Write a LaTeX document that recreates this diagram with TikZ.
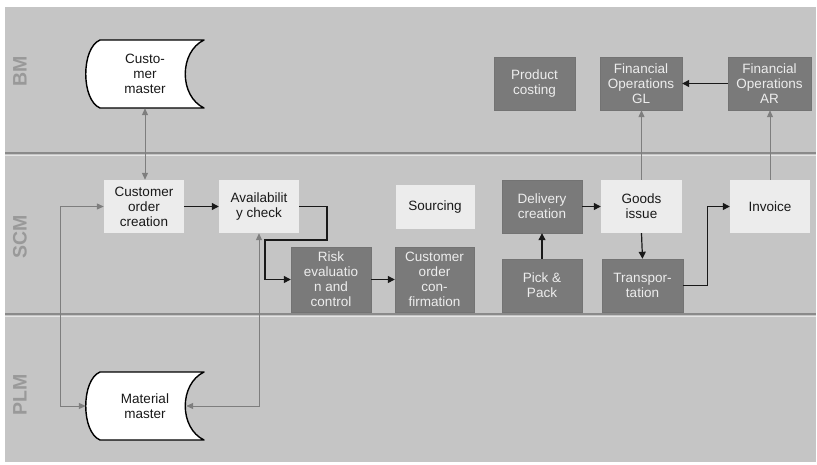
\documentclass[tikz,border=0pt]{standalone}
\usepackage{fontspec}
\setmainfont{Liberation Sans}
\usetikzlibrary{arrows.meta}
\definecolor{lanefill}{HTML}{C5C5C5}
\definecolor{laneline}{HTML}{8A8A8A}
\definecolor{lanetext}{HTML}{999999}
\definecolor{boxlight}{HTML}{ECECEC}
\definecolor{boxdark}{HTML}{7A7A7A}
\definecolor{linkgray}{HTML}{7E7E7E}
\newcommand{\boxfont}{\fontsize{13.5}{15}\selectfont}

\begin{document}
\begin{tikzpicture}[x=1pt,y=-1pt]
  \useasboundingbox (0,0) rectangle (817,464);
  \fill[lanefill] (5,7) rectangle (816,462);
  \tikzset{lightbox/.style={fill=boxlight,text=black!90,minimum width=80pt,minimum height=53pt,
                            inner sep=0pt,align=center,font=\boxfont},
           darkbox/.style={lightbox,fill=boxdark,draw=black!55,line width=.4pt,text=white!93!black},
           masterbox/.style={minimum width=118pt,minimum height=68pt,inner sep=0pt,align=center,
                             font=\boxfont,text=black!90},
           masterline/.style={draw=black,fill=white,line width=1.4pt,line join=round},
           lanelabel/.style={rotate=90,text=lanetext,font=\fontsize{19.5}{19.5}\selectfont\bfseries},
           flow/.style={draw=black!90,line width=1.2pt,-{Triangle[length=7pt,width=7pt]}},
           link/.style={draw=linkgray,line width=1pt,{Triangle[length=7pt,width=6pt]}-{Triangle[length=7pt,width=6pt]}},
           uplink/.style={draw=linkgray,line width=1pt,-{Triangle[length=7pt,width=6pt]}}}
  % lanes
  \draw[laneline,line width=1.5pt] (5,153) -- (816,153);
  \draw[white!90!black,line width=.8pt] (5,155.2) -- (816,155.2);
  \draw[laneline,line width=1.5pt] (5,314) -- (816,314);
  \draw[white!90!black,line width=.8pt] (5,316.2) -- (816,316.2);
  \node[lanelabel] (bm) at (20,71) {BM};
  \node[lanelabel] (scm) at (20,237) {SCM};
  \node[lanelabel] (plm) at (20,395) {PLM};

  % master data
  \coordinate (cmc) at (145,74);
  \coordinate (mmc) at (145,406);
  \foreach \c in {cmc,mmc}
    \draw[masterline] ([shift={(59,-34)}]\c) .. controls +(-25,12) and +(-25,-12) .. ([shift={(59,34)}]\c)
      -- ([shift={(-45,34)}]\c) .. controls +(-19,-8) and +(-19,8) .. ([shift={(-45,-34)}]\c) -- cycle;
  \node[masterbox] (cmaster) at (cmc) {Custo-\\mer\\master};
  \node[masterbox] (mmaster) at (mmc) {Material\\master};

  % process steps
  \node[lightbox] (coc) at (144,206.5) {Customer\\order\\creation};
  \node[lightbox] (avail) at (259,206.5) {Availabilit\\y check};
  \node[darkbox,minimum height=65pt] (risk) at (331,279.5) {Risk\\evaluatio\\n and\\control};
  \node[darkbox,minimum height=65pt,minimum width=79pt] (coconf) at (434.5,279.5) {Customer\\order\\con-\\firmation};
  \node[lightbox,minimum height=44pt,minimum width=79pt] (sourcing) at (435,207) {Sourcing};
  \node[darkbox] (deliv) at (542,206.5) {Delivery\\creation};
  \node[lightbox,minimum width=81pt] (goods) at (641.5,206.5) {Goods\\issue};
  \node[lightbox] (invoice) at (770,206.5) {Invoice};
  \node[darkbox] (pick) at (542,285.5) {Pick \&\\Pack};
  \node[darkbox,minimum width=81pt] (transp) at (642.5,285.5) {Transpor-\\tation};
  \node[darkbox,minimum width=81pt] (costing) at (534.5,83.5) {Product\\costing};
  \node[darkbox,minimum width=82pt] (fingl) at (641,83.5) {Financial\\Operations\\GL};
  \node[darkbox,minimum width=83pt] (finar) at (769.5,83.5) {Financial\\Operations\\AR};

  % connectors
  \coordinate (b1) at (327,240);
  \coordinate (b2) at (265,240);
  \draw[link] (cmaster.south) -- (cmaster.south |- coc.north);
  \draw[link] (mmaster.west) -| ([xshift=-43pt]coc.west) -- (coc.west);
  \draw[link] ([xshift=-18pt]mmaster.east) -| (avail.south);
  \draw[flow] (coc) -- (avail);
  \draw[flow] (avail.east) -| (b1) -- (b2) |- (risk.west);
  \draw[flow] (risk) -- (coconf);
  \draw[flow] (pick) -- (deliv);
  \draw[flow] (deliv) -- (goods);
  \draw[flow] (goods.south) -- (transp.north);
  \draw[flow] (transp.east) -- ++(24,0) |- (invoice.west);
  \draw[uplink] (goods.north) -- (goods.north |- fingl.south);
  \draw[uplink] (invoice.north) -- (invoice.north |- finar.south);
  \draw[flow] (finar) -- (fingl);
\end{tikzpicture}
\end{document}
